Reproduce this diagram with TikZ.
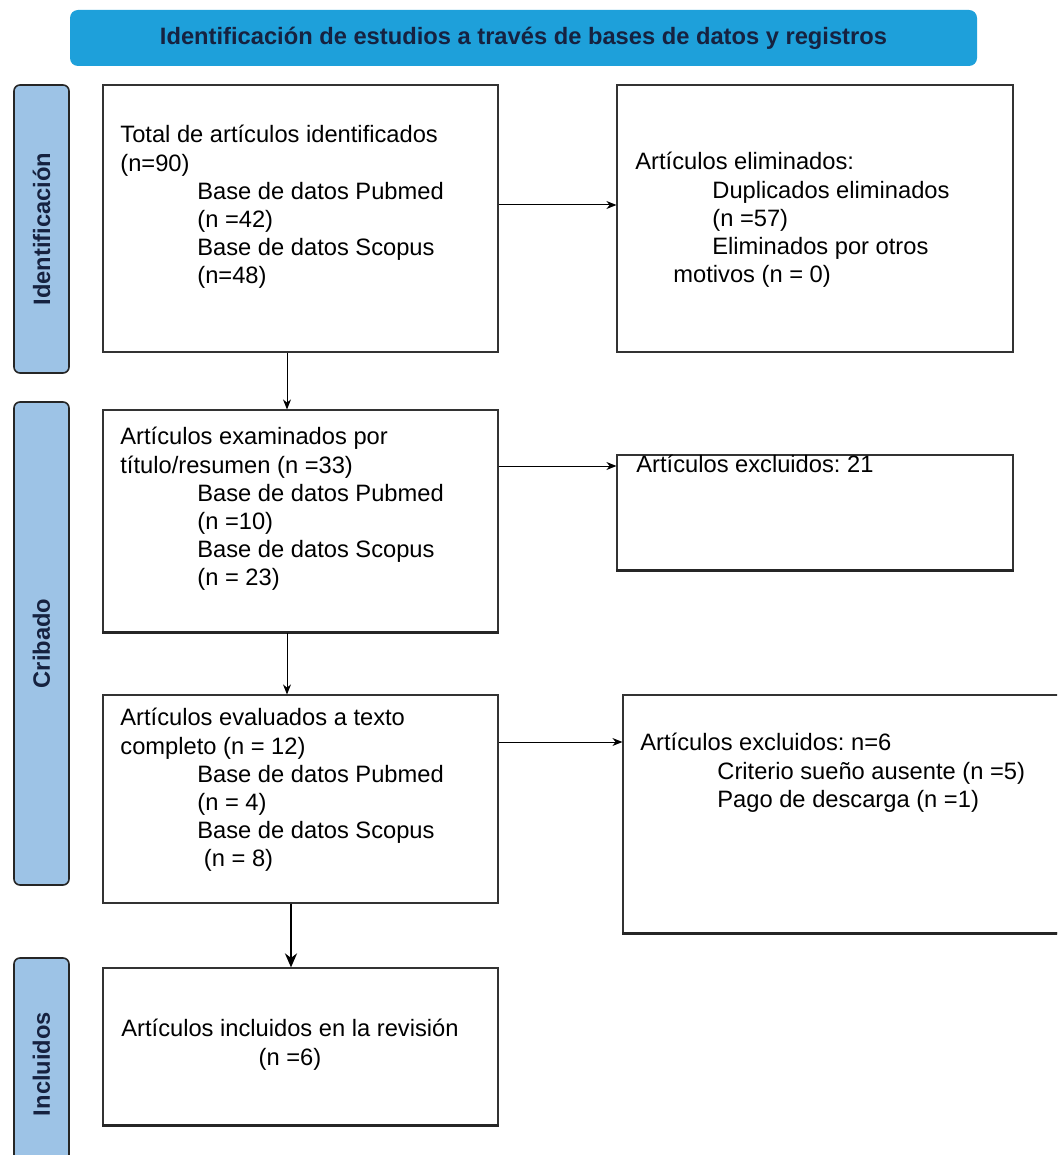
\documentclass[tikz,border=0pt]{standalone}
\usepackage{fontspec}
\setmainfont{Liberation Sans}
\usetikzlibrary{arrows.meta}

\definecolor{azulcab}{RGB}{30,160,218}
\definecolor{azulfase}{RGB}{157,195,230}
\definecolor{tinta}{RGB}{22,34,64}

\newcommand{\letra}{\fontsize{11.85}{14.1}\selectfont\frenchspacing}
\newcommand{\sangria}{\hspace*{38.5pt}}

\tikzset{
  caja/.style={draw=black!80, line width=0.6pt, inner sep=0pt},
  fondo/.style={line width=1.2pt, black!85},
  fase/.style={draw=black!85, line width=0.8pt, fill=azulfase,
    rounded corners=3pt, inner sep=0pt, text=tinta, font=\letra\bfseries},
  texto/.style={inner sep=0pt, align=left, anchor=north west, font=\letra,
    execute at begin node={\rule{0pt}{12pt}}},
  flecha/.style={-{Stealth[length=5pt,width=4pt]}, line width=0.5pt},
}

\begin{document}
\begin{tikzpicture}[x=0.5pt,y=-0.5pt]

\clip (0,0) rectangle (1057,1155);
\fill[white] (0,0) rectangle (1057,1155);

% Cabecera
\node[fill=azulcab, rounded corners=4pt, minimum width=453.5pt,
  minimum height=28pt, text=tinta, font=\letra\bfseries]
(cab) at (523.5,38)
{Identificación de estudios a través de bases de datos y registros};

% Fases
\foreach \nom/\yc/\alto/\etiq in
  {fident/229/144pt/Identificación,
   fcrib/643.5/241.5pt/Cribado,
   fincl/1064/106pt/Incluidos}
{
    \node[fase, rotate=90, minimum width=\alto, minimum height=27.5pt]
    (\nom) at (41.5,\yc) {\etiq};
}

% Cajas
\node[caja, minimum width=197.5pt, minimum height=133.5pt] (ident) at (300.5,218.5) {};
\node[caja, minimum width=198pt, minimum height=133.5pt] (elim) at (815,218.5) {};
\node[caja, minimum width=197.5pt, minimum height=111pt] (exam) at (300.5,521) {};
\node[caja, minimum width=198pt, minimum height=57.5pt] (excl) at (815,512.5) {};
\node[caja, minimum width=197.5pt, minimum height=104pt] (eval) at (300.5,799) {};
\node[caja, minimum width=223.5pt, minimum height=119pt] (excl2) at (846.5,814) {};
\node[caja, minimum width=197.5pt, minimum height=78.5pt] (incl) at (300.5,1046.5) {};

% Bordes inferiores marcados
\foreach \c in {exam,excl,excl2,incl}
{
    \draw[fondo] (\c.south west) -- (\c.south east);
}

% Textos
\node[texto] (tident) at (120,125)
{Total de artículos identificados\\
(n=90)\\
\sangria Base de datos Pubmed\\
\sangria(n =42)\\
\sangria Base de datos Scopus\\
\sangria(n=48)};

\node[texto] (telim) at (635,152)
{Artículos eliminados:\\
\sangria Duplicados eliminados\\
\sangria(n =57)\\
\sangria Eliminados por otros\\
\hspace*{19pt}motivos (n = 0)};

\node[texto] (texam) at (120,427)
{Artículos examinados por\\
título/resumen (n =33)\\
\sangria Base de datos Pubmed\\
\sangria(n =10)\\
\sangria Base de datos Scopus\\
\sangria(n = 23)};

\node[texto] (texcl) at (636,448)
{Artículos excluidos: 21};

\node[texto] (teval) at (120,708)
{Artículos evaluados a texto\\
completo (n = 12)\\
\sangria Base de datos Pubmed\\
\sangria(n = 4)\\
\sangria Base de datos Scopus\\
\sangria\ (n = 8)};

\node[texto] (texcl2) at (640,733)
{Artículos excluidos: n=6\\
\sangria Criterio sueño ausente (n =5)\\
\sangria Pago de descarga (n =1)};

\node[texto, align=center, anchor=north] (tincl) at (290,1019)
{Artículos incluidos en la revisión\\
(n =6)};

% Flechas
\coordinate (colx) at (287,0);
\coordinate (coly) at (291,0);

\draw[flecha]
(ident.east |- 0,205)
--
(elim.west |- 0,205);

\draw[flecha]
(ident.south -| colx)
--
(exam.north -| colx);

\draw[flecha]
(exam.east |- 0,466)
--
(excl.west |- 0,466);

\draw[flecha]
(exam.south -| colx)
--
(eval.north -| colx);

\draw[flecha]
(eval.east |- 0,742)
--
(excl2.west |- 0,742);

\draw[-{Stealth[length=7pt,width=6pt]}, line width=1.3pt]
(eval.south -| coly)
--
(incl.north -| coly);

\end{tikzpicture}
\end{document}
